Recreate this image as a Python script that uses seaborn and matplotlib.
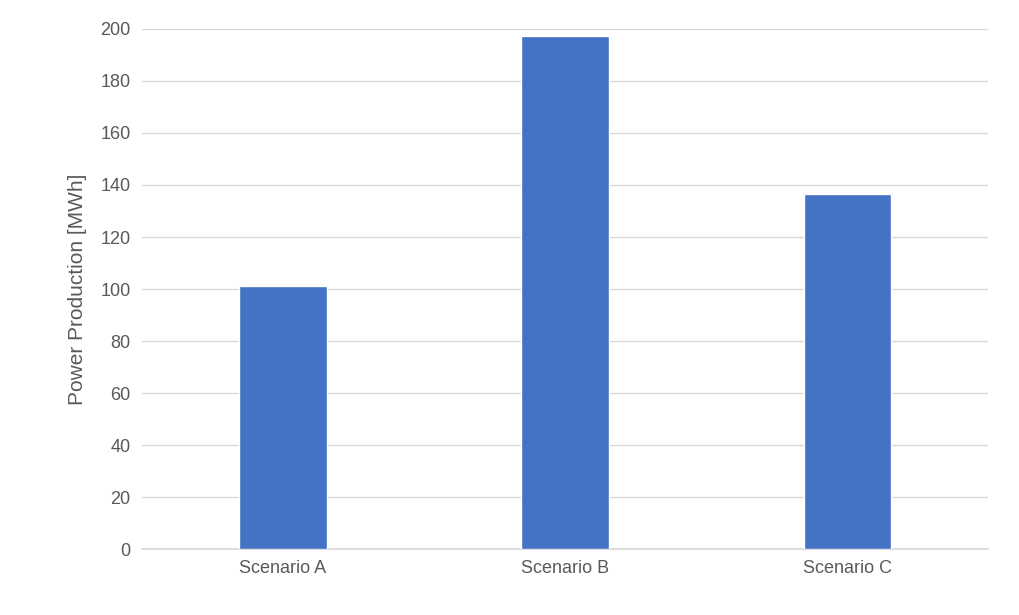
import matplotlib
matplotlib.use('Agg')
import matplotlib.pyplot as plt
import seaborn as sns
import pandas as pd

scenarios = ['Scenario A', 'Scenario B', 'Scenario C']
production = [101.3, 197.4, 136.6]

sns.set_theme(style='white')
plt.rcParams['font.family'] = ['Liberation Sans', 'DejaVu Sans']

df = pd.DataFrame({'scenario': scenarios, 'mwh': production})

fig = plt.figure(figsize=(10.2, 6.15), dpi=100)
ax = fig.add_axes([0.139, 0.107, 0.83, 0.846])
sns.barplot(data=df, x='scenario', y='mwh', color='#4472C4', saturation=1,
            width=0.31, ax=ax, zorder=3)

ax.set_ylim(0, 200)
ax.set_yticks(range(0, 201, 20))
ax.set_xlim(-0.5, 2.5)
ax.grid(axis='y', color='#D9D9D9', linewidth=1, zorder=0)
for s in ['top', 'right', 'left']:
    ax.spines[s].set_visible(False)
ax.spines['bottom'].set_color('#D9D9D9')
ax.tick_params(axis='both', colors='#595959', labelsize=13, length=0, pad=8)
ax.set_xlabel('')
ax.set_ylabel('Power Production [MWh]', fontsize=15, color='#595959', labelpad=10)

fig.savefig('out.png', dpi=100)
